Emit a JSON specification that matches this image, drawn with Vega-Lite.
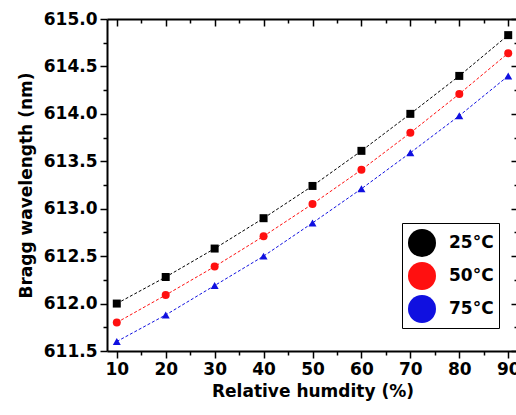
{
  "$schema": "https://vega.github.io/schema/vega-lite/v6.json",
  "width": 411,
  "height": 332,
  "autosize": {"type": "none"},
  "padding": {"left": 107, "top": 19, "right": 0, "bottom": 64},
  "background": "white",
  "config": {
    "view": {"stroke": null},
    "axis": {
      "grid": false,
      "domainColor": "black",
      "domainWidth": 2,
      "tickColor": "black",
      "tickWidth": 1.5,
      "labelFont": "DejaVu Sans",
      "labelFontWeight": "bold",
      "labelFontSize": 17,
      "labelColor": "black",
      "titleFont": "DejaVu Sans",
      "titleFontWeight": "bold",
      "titleFontSize": 17,
      "titleColor": "black",
      "labelOverlap": false,
      "labelFlush": false,
      "labelBound": false
    }
  },
  "data": {
    "values": [
      {"rh": 10, "wl": 612.0, "T": "25°C"},
      {"rh": 20, "wl": 612.28, "T": "25°C"},
      {"rh": 30, "wl": 612.58, "T": "25°C"},
      {"rh": 40, "wl": 612.9, "T": "25°C"},
      {"rh": 50, "wl": 613.24, "T": "25°C"},
      {"rh": 60, "wl": 613.61, "T": "25°C"},
      {"rh": 70, "wl": 614.0, "T": "25°C"},
      {"rh": 80, "wl": 614.4, "T": "25°C"},
      {"rh": 90, "wl": 614.83, "T": "25°C"},
      {"rh": 10, "wl": 611.8, "T": "50°C"},
      {"rh": 20, "wl": 612.09, "T": "50°C"},
      {"rh": 30, "wl": 612.39, "T": "50°C"},
      {"rh": 40, "wl": 612.71, "T": "50°C"},
      {"rh": 50, "wl": 613.05, "T": "50°C"},
      {"rh": 60, "wl": 613.41, "T": "50°C"},
      {"rh": 70, "wl": 613.8, "T": "50°C"},
      {"rh": 80, "wl": 614.21, "T": "50°C"},
      {"rh": 90, "wl": 614.64, "T": "50°C"},
      {"rh": 10, "wl": 611.6, "T": "75°C"},
      {"rh": 20, "wl": 611.88, "T": "75°C"},
      {"rh": 30, "wl": 612.19, "T": "75°C"},
      {"rh": 40, "wl": 612.5, "T": "75°C"},
      {"rh": 50, "wl": 612.85, "T": "75°C"},
      {"rh": 60, "wl": 613.21, "T": "75°C"},
      {"rh": 70, "wl": 613.59, "T": "75°C"},
      {"rh": 80, "wl": 613.98, "T": "75°C"},
      {"rh": 90, "wl": 614.4, "T": "75°C"}
    ]
  },
  "layer": [
    {
      "mark": {"type": "line", "strokeWidth": 1, "strokeDash": [3, 2]},
      "encoding": {
        "x": {
          "field": "rh", "type": "quantitative",
          "scale": {"domain": [8, 92], "nice": false, "zero": false},
          "axis": {
            "orient": "bottom",
            "title": "Relative humdity (%)",
            "titlePadding": 6,
            "values": [10, 15, 20, 25, 30, 35, 40, 45, 50, 55, 60, 65, 70, 75, 80, 85, 90],
            "labelExpr": "datum.value % 10 == 0 ? format(datum.value, 'd') : ''",
            "tickSize": {"condition": {"test": "datum.value % 10 != 0", "value": 4}, "value": 7},
            "labelPadding": 3
          }
        },
        "y": {
          "field": "wl", "type": "quantitative",
          "scale": {"domain": [611.5, 615], "nice": false, "zero": false},
          "axis": {
            "orient": "left",
            "title": "Bragg wavelength (nm)",
            "titlePadding": 8,
            "values": [611.5, 611.75, 612, 612.25, 612.5, 612.75, 613, 613.25, 613.5, 613.75, 614, 614.25, 614.5, 614.75, 615],
            "labelExpr": "datum.value % 0.5 == 0 ? format(datum.value, '.1f') : ''",
            "tickSize": {"condition": {"test": "datum.value % 0.5 != 0", "value": 4}, "value": 7},
            "labelPadding": 3
          }
        },
        "stroke": {
          "field": "T", "type": "nominal",
          "scale": {"domain": ["25°C", "50°C", "75°C"], "range": ["#000000", "#ff1010", "#1010e0"]},
          "legend": null
        },
        "detail": {"field": "T"}
      }
    },
    {
      "mark": {"type": "point", "filled": true, "opacity": 1},
      "encoding": {
        "x": {
          "field": "rh", "type": "quantitative",
          "axis": {
            "orient": "top",
            "title": null,
            "labels": false,
            "values": [10, 15, 20, 25, 30, 35, 40, 45, 50, 55, 60, 65, 70, 75, 80, 85, 90],
            "tickSize": {"condition": {"test": "datum.value % 10 != 0", "value": -4}, "value": -7}
          }
        },
        "y": {
          "field": "wl", "type": "quantitative",
          "axis": {
            "orient": "right",
            "title": null,
            "labels": false,
            "values": [611.5, 611.75, 612, 612.25, 612.5, 612.75, 613, 613.25, 613.5, 613.75, 614, 614.25, 614.5, 614.75, 615],
            "tickSize": {"condition": {"test": "datum.value % 0.5 != 0", "value": -4}, "value": -7}
          }
        },
        "shape": {
          "field": "T", "type": "nominal",
          "scale": {"domain": ["25°C", "50°C", "75°C"], "range": ["square", "circle", "triangle-up"]},
          "legend": null
        },
        "size": {"value": 64},
        "color": {
          "field": "T", "type": "nominal",
          "scale": {"range": ["#000000", "#ff1010", "#1010e0"]},
          "legend": {
            "title": null,
            "orient": "none",
            "legendX": 295,
            "legendY": 204,
            "strokeColor": "black",
            "padding": 5,
            "symbolSize": 784,
            "rowPadding": 4,
            "labelOffset": 12,
            "labelFont": "DejaVu Sans",
            "labelFontWeight": "bold",
            "labelFontSize": 17,
            "labelColor": "black",
            "fillColor": "white",
            "encode": {
              "symbols": {
                "shape": {
                  "condition": [
                    {"test": "datum.value == '25°C'", "value": "M-0.64,0L0.64,0M-0.125,-0.125L0.125,-0.125L0.125,0.125L-0.125,0.125Z"},
                    {"test": "datum.value == '50°C'", "value": "M-0.64,0L0.64,0M0.16,0L0.14,0.08L0.08,0.14L0,0.16L-0.08,0.14L-0.14,0.08L-0.16,0L-0.14,-0.08L-0.08,-0.14L0,-0.16L0.08,-0.14L0.14,-0.08Z"}
                  ],
                  "value": "M-0.64,0L0.64,0M0,-0.16L0.16,0.12L-0.16,0.12Z"
                },
                "stroke": {
                  "condition": [
                    {"test": "datum.value == '25°C'", "value": "#000000"},
                    {"test": "datum.value == '50°C'", "value": "#ffb0b0"}
                  ],
                  "value": "#eeeef8"
                },
                "strokeWidth": {"value": 1.5}
              }
            }
          }
        }
      }
    }
  ],
  "resolve": {"axis": {"x": "independent", "y": "independent"}}
}
